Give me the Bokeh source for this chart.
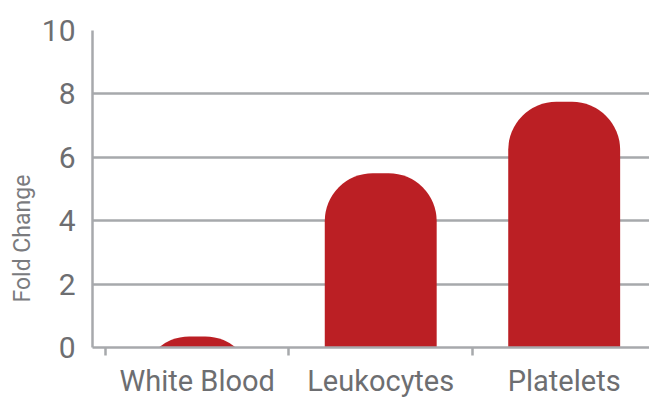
from bokeh.plotting import figure
from bokeh.models import FixedTicker, Range1d, ColumnDataSource, Title
from bokeh.embed import file_html
from bokeh.resources import INLINE

categories = ["White Blood", "Leukocytes", "Platelets"]
fold_change = [0.35, 5.5, 7.75]
y_ticks = [0, 2, 4, 6, 8, 10]
y_title = "Fold Change"

centers = [i + 0.5 for i in range(len(categories))]
base = -3.0  # bars extend below the frame and are clipped there
ys = [(t + base) / 2 for t in fold_change]
hs = [t - base for t in fold_change]
src = ColumnDataSource(dict(x=centers, y=ys, h=hs))

GRAY = "#a7a9ac"
TEXT = "#6d6e71"
FONT = "Roboto"

p = figure(width=649, height=400, output_backend="svg", toolbar_location=None,
           x_range=Range1d(-0.071, 2.965), y_range=Range1d(0, 10),
           min_border_left=92, min_border_right=0, min_border_top=30, min_border_bottom=51)
p.outline_line_color = None

p.rect(x="x", y="y", width=0.61, height="h", source=src,
       fill_color="#bb1f24", line_color=None, border_radius=(48, 48, 0, 0))

p.xgrid.grid_line_color = None
p.ygrid.grid_line_color = GRAY
p.ygrid.grid_line_width = 2.5
p.ygrid.ticker = FixedTicker(ticks=y_ticks)

p.yaxis.ticker = FixedTicker(ticks=y_ticks)
p.yaxis.axis_line_color = GRAY
p.yaxis.axis_line_width = 2.5
p.yaxis.major_tick_line_color = None
p.yaxis.minor_tick_line_color = None
p.yaxis.major_label_text_font = FONT
p.yaxis.major_label_text_font_size = "30px"
p.yaxis.major_label_text_color = TEXT
p.yaxis.major_label_standoff = 11

p.add_layout(Title(text=y_title, align="left", offset=45, standoff=6,
                   text_font=FONT, text_font_size="23px", text_font_style="normal",
                   text_color="#7a7b7e"), "left")

p.xaxis.ticker = FixedTicker(ticks=centers, minor_ticks=[0, 1, 2, 3])
p.xaxis.major_label_overrides = {c: n for c, n in zip(centers, categories)}
p.xaxis.axis_line_color = GRAY
p.xaxis.axis_line_width = 2.5
p.xaxis.major_tick_line_color = None
p.xaxis.minor_tick_line_color = GRAY
p.xaxis.minor_tick_line_width = 2.5
p.xaxis.minor_tick_out = 8
p.xaxis.minor_tick_in = 0
p.xaxis.major_label_text_font = FONT
p.xaxis.major_label_text_font_size = "29px"
p.xaxis.major_label_text_color = TEXT
p.xaxis.major_label_standoff = 8

open("out.html", "w").write(file_html(p, INLINE))
